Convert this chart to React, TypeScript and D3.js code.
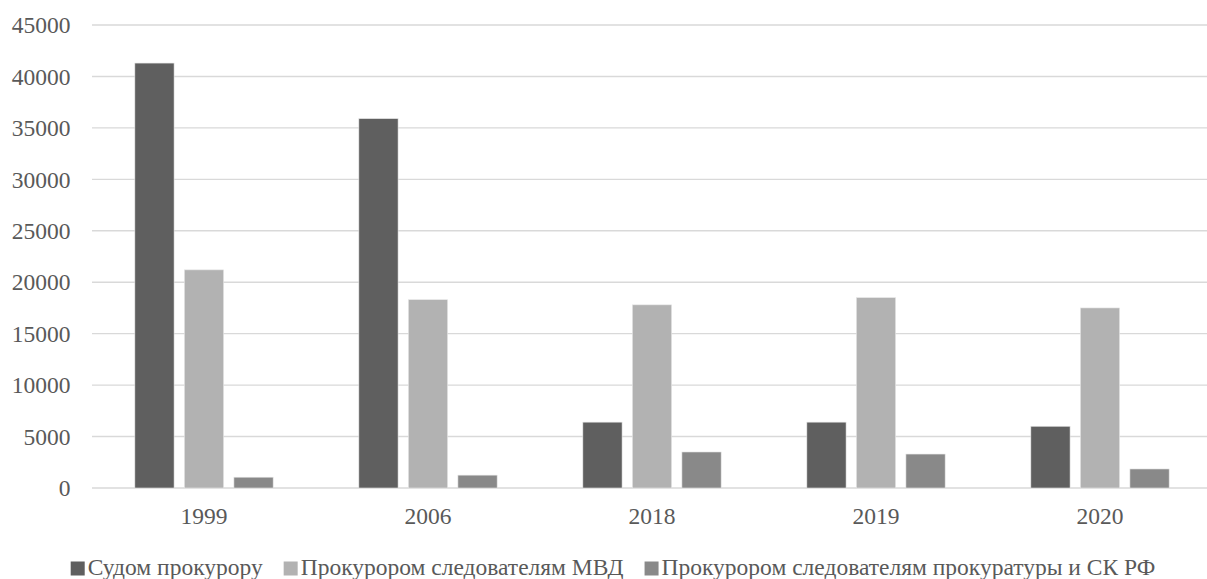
import React, { useEffect, useRef } from 'react';
import * as d3 from 'd3';

// data
const years = ['1999', '2006', '2018', '2019', '2020'];
const seriesNames = [
  'Судом прокурору',
  'Прокурором следователям МВД',
  'Прокурором следователям прокуратуры и СК РФ',
];
const courtToProsecutor = [41300, 35900, 6400, 6400, 6000];
const prosecutorToMvd = [21200, 18300, 17800, 18500, 17500];
const prosecutorToSk = [1050, 1250, 3500, 3300, 1850];
const yTicks = [0, 5000, 10000, 15000, 20000, 25000, 30000, 35000, 40000, 45000];
const colors = ['#5f5f5f', '#b2b2b2', '#898989'];

const W = 1207;
const H = 579;
const FONT = "'Liberation Serif', Tinos, 'Times New Roman', 'DejaVu Serif', serif";

export default function App() {
  const ref = useRef<SVGSVGElement>(null);

  useEffect(() => {
    const svg = d3.select(ref.current);
    svg.selectAll('*').remove();

    const values = [courtToProsecutor, prosecutorToMvd, prosecutorToSk];

    const x = d3.scaleBand().domain(years).range([92, 1212]).paddingInner(0.3826).paddingOuter(0.1913);
    const xs = d3.scaleBand().domain(seriesNames).range([0, x.bandwidth()]).paddingInner(0.208);
    const y = d3.scaleLinear().domain([0, 45000]).range([488, 25]);

    // grid
    svg.append('g')
      .selectAll('line')
      .data(yTicks)
      .join('line')
      .attr('x1', 92)
      .attr('x2', 1212)
      .attr('y1', d => y(d))
      .attr('y2', d => y(d))
      .attr('stroke', '#d9d9d9')
      .attr('stroke-width', 1.4);

    // y labels
    svg.append('g')
      .selectAll('text')
      .data(yTicks)
      .join('text')
      .attr('x', 70.5)
      .attr('y', d => y(d))
      .attr('dy', '0.35em')
      .attr('text-anchor', 'end')
      .style('font-family', FONT)
      .style('font-size', '23.5px')
      .attr('fill', '#595959')
      .text(d => String(d));

    // bars
    seriesNames.forEach((name, si) => {
      svg.append('g')
        .selectAll('rect')
        .data(values[si])
        .join('rect')
        .attr('x', (d, i) => (x(years[i]) as number) + (xs(name) as number))
        .attr('width', xs.bandwidth())
        .attr('y', d => y(d))
        .attr('height', d => y(0) - y(d))
        .attr('fill', colors[si])
        .attr('stroke', '#e6e6e6')
        .attr('stroke-width', 0.6);
    });

    // x labels
    svg.append('g')
      .selectAll('text')
      .data(years)
      .join('text')
      .attr('x', d => (x(d) as number) + x.bandwidth() / 2)
      .attr('y', 524)
      .attr('text-anchor', 'middle')
      .style('font-family', FONT)
      .style('font-size', '23.5px')
      .attr('fill', '#595959')
      .text(d => d);

    // legend
    const legend = svg.append('g');
    const items = legend.selectAll('g').data(seriesNames).join('g');
    items.append('rect')
      .attr('width', 14)
      .attr('height', 14)
      .attr('y', 561.5)
      .attr('fill', (d, i) => colors[i]);
    items.append('text')
      .attr('x', 17)
      .attr('y', 575)
      .style('font-family', FONT)
      .style('font-size', '23.5px')
      .attr('fill', '#595959')
      .text(d => d);
    let pos = 0;
    const offsets: number[] = [];
    items.each(function () {
      offsets.push(pos);
      const t = d3.select(this).select('text').node() as SVGTextElement;
      pos += 17 + t.getComputedTextLength() + 21;
    });
    const start = 70.7;
    items.attr('transform', (d, i) => `translate(${start + offsets[i]},0)`);
  }, []);

  return (
    <svg
      ref={ref}
      width={W}
      height={H}
      style={{ position: 'absolute', left: 0, top: 0, background: '#fff', display: 'block' }}
    />
  );
}
